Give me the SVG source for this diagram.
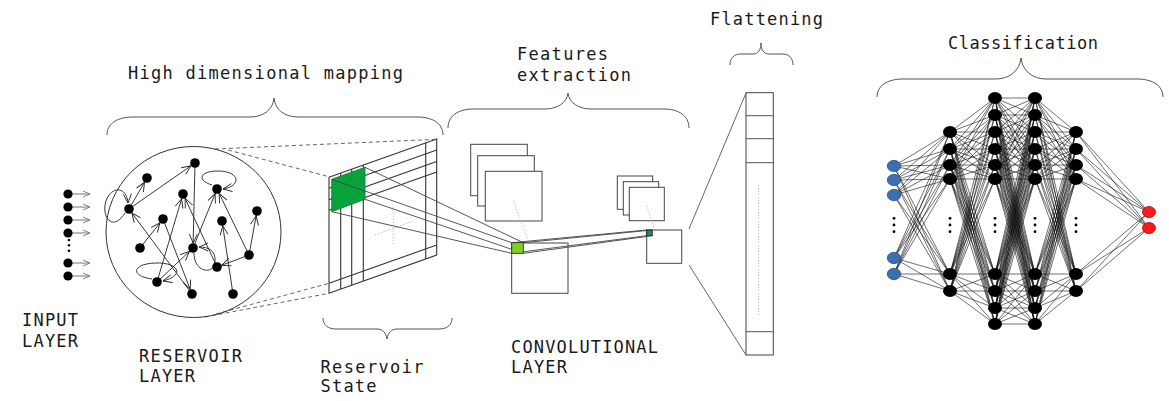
<svg xmlns="http://www.w3.org/2000/svg" width="1169" height="401" viewBox="0 0 1169 401">
<style>
.lbl{font-family:"DejaVu Sans Mono","Liberation Mono",monospace;font-size:17px;fill:#1a1a1a}
.brace{fill:none;stroke:#555;stroke-width:1}
.grid{stroke:#333;stroke-width:1.1;fill:none}
.box{fill:#fff;stroke:#444;stroke-width:1}
.dot{stroke:#aaa;stroke-width:1;stroke-dasharray:1 2;fill:none}
.edge{stroke:#222;stroke-width:0.9;fill:none}
.dash{stroke:#555;stroke-width:0.9;stroke-dasharray:4 3;fill:none}
.proj{stroke:#444;stroke-width:0.9;fill:none}
.nn{stroke:#111;stroke-width:0.6;fill:none}
.rn{fill:#000}
.bn{fill:#000}
.blue{fill:#3d6fb0;stroke:#2a4f80;stroke-width:0.8}
.red{fill:#ff1a1a;stroke:#b00000;stroke-width:0.8}
</style>
<defs>
<marker id="arr" markerUnits="userSpaceOnUse" markerWidth="16" markerHeight="10" refX="14" refY="4" orient="auto" overflow="visible"><path d="M0,0 L9,4 L0,8" fill="none" stroke="#222" stroke-width="0.9"/></marker>
<marker id="tip" markerUnits="userSpaceOnUse" markerWidth="10" markerHeight="10" refX="9" refY="4" orient="auto" overflow="visible"><path d="M0,0 L9,4 L0,8" fill="none" stroke="#222" stroke-width="0.9"/></marker>
<marker id="inarr" markerUnits="userSpaceOnUse" markerWidth="8" markerHeight="8" refX="7" refY="3" orient="auto" overflow="visible"><path d="M0,0 L7,3 L0,6" fill="none" stroke="#777" stroke-width="0.9"/></marker>
</defs>
<rect width="1169" height="401" fill="#fff"/>

<g id="reservoir-state">
<path class="grid" d="M329,177.3 L436.7,139 L436.7,255 L329,293.3 Z"/>
<path class="grid" d="M329,188.3 L436.7,150 M329,199.8 L436.7,161.5 M329,210.3 L436.7,172 M329,283.3 L436.7,245"/>
<path class="grid" d="M340.7,173.1 V289.1 M351.7,169.2 V285.2 M363.3,165.1 V281.1 M425.7,142.9 V258.9"/>
<polygon points="331.7,179.3 365,167.3 365,199.3 331.7,211.7" fill="#05a33a" stroke="#0a7a2c" stroke-width="0.8"/>
<path class="dot" d="M393.3,206.7 V245 M375,235 L413,221"/>
</g>

<g id="feature-maps">
<rect class="box" x="470.7" y="144.3" width="56.6" height="51.4"/>
<rect class="box" x="477.7" y="155.7" width="56.6" height="50.3"/>
<rect class="box" x="485.3" y="171.3" width="56.7" height="49.7"/>
<path class="dot" d="M513.3,200.7 L527.3,238.3"/>
<rect class="box" x="511.7" y="243" width="56.3" height="50.3"/>
<rect class="box" x="617.3" y="176" width="35.4" height="33.3"/>
<rect class="box" x="623.3" y="181.7" width="35.4" height="33.3"/>
<rect class="box" x="629.3" y="187.3" width="35" height="33.4"/>
<path class="dot" d="M646.7,206 L654,228.3"/>
<rect class="box" x="646.7" y="230" width="35" height="33.3"/>
</g>

<g id="flatten">
<rect class="box" x="746" y="92.7" width="27.3" height="262.3"/>
<path stroke="#555" stroke-width="1" d="M746,115.7 H773.3 M746,138.7 H773.3 M746,162.7 H773.3 M746,331.7 H773.3"/>
<path class="dot" d="M758.7,185 V315"/>
</g>

<g id="connectors">
<g stroke="#666" stroke-width="0.9" marker-end="url(#inarr)">
<line x1="72" y1="194" x2="90" y2="194"/>
<line x1="72" y1="207" x2="90" y2="207"/>
<line x1="72" y1="220" x2="90" y2="220"/>
<line x1="72" y1="233" x2="90" y2="233"/>
<line x1="72" y1="263" x2="90" y2="263"/>
<line x1="72" y1="276" x2="90" y2="276"/>
</g>
<g class="edge" marker-end="url(#arr)">
<line x1="129" y1="209" x2="195" y2="163"/>
<line x1="129" y1="209" x2="147" y2="178"/>
<line x1="192" y1="294" x2="129" y2="209"/>
<line x1="195" y1="163" x2="193" y2="248"/>
<line x1="140" y1="248" x2="163" y2="219"/>
<line x1="163" y1="219" x2="192" y2="294"/>
<line x1="157" y1="282" x2="183" y2="194"/>
<line x1="217" y1="267" x2="183" y2="194"/>
<line x1="157" y1="282" x2="193" y2="248"/>
<line x1="193" y1="248" x2="217" y2="189"/>
<line x1="249" y1="255" x2="217" y2="189"/>
<line x1="249" y1="255" x2="257" y2="211"/>
<line x1="249" y1="255" x2="217" y2="267"/>
<line x1="233" y1="294" x2="222" y2="221"/>
</g>
<g class="edge" marker-end="url(#tip)">
<path d="M125,213 C110,236 98,210 109,195 C116,186 127,189 128,203"/>
<path d="M212,185 C196,180 200,171 218,171 C240,171 242,186 223,189"/>
<path d="M152,279 C130,276 132,264 155,263 C178,262 186,275 163,281"/>
<path d="M194,253 C194,273 214,275 215,262 C216,250 208,247 199,247"/>
</g>
<path class="dash" d="M215,149 L436.7,139.3 M228,150 L330,177 M205,317 L329,293.3 M216,314 L329,283.3"/>
<path class="proj" d="M365,167.3 L523.3,242.7 M331.7,179.3 L511.7,242.7 M365,199.3 L523.3,253.3 M331.7,211.7 L511.7,253.3"/>
<path class="proj" stroke-width="1.1" d="M511.7,242.7 L646.7,230 M523.3,242.7 L652.3,230 M511.7,253.3 L646.7,235.7 M523.3,253.3 L652.3,235.7"/>
<path stroke="#666" stroke-width="1" d="M689,229 L746,93 M689,265 L746,355"/>
<path class="nn" d="M894 166L950 132M894 166L950 149M894 166L950 165M894 166L950 179M894 166L950 274M894 166L950 291M894 180L950 132M894 180L950 149M894 180L950 165M894 180L950 179M894 180L950 274M894 180L950 291M894 195L950 132M894 195L950 149M894 195L950 165M894 195L950 179M894 195L950 274M894 195L950 291M894 258L950 132M894 258L950 149M894 258L950 165M894 258L950 179M894 258L950 274M894 258L950 291M894 274L950 132M894 274L950 149M894 274L950 165M894 274L950 179M894 274L950 274M894 274L950 291"/>
<path class="nn" d="M950 132L995 98M950 132L995 115M950 132L995 132M950 132L995 149M950 132L995 165M950 132L995 179M950 132L995 274M950 132L995 291M950 132L995 308M950 132L995 324M950 149L995 98M950 149L995 115M950 149L995 132M950 149L995 149M950 149L995 165M950 149L995 179M950 149L995 274M950 149L995 291M950 149L995 308M950 149L995 324M950 165L995 98M950 165L995 115M950 165L995 132M950 165L995 149M950 165L995 165M950 165L995 179M950 165L995 274M950 165L995 291M950 165L995 308M950 165L995 324M950 179L995 98M950 179L995 115M950 179L995 132M950 179L995 149M950 179L995 165M950 179L995 179M950 179L995 274M950 179L995 291M950 179L995 308M950 179L995 324M950 274L995 98M950 274L995 115M950 274L995 132M950 274L995 149M950 274L995 165M950 274L995 179M950 274L995 274M950 274L995 291M950 274L995 308M950 274L995 324M950 291L995 98M950 291L995 115M950 291L995 132M950 291L995 149M950 291L995 165M950 291L995 179M950 291L995 274M950 291L995 291M950 291L995 308M950 291L995 324"/>
<path class="nn" d="M995 98L1035 98M995 98L1035 115M995 98L1035 132M995 98L1035 149M995 98L1035 165M995 98L1035 179M995 98L1035 274M995 98L1035 291M995 98L1035 308M995 98L1035 324M995 115L1035 98M995 115L1035 115M995 115L1035 132M995 115L1035 149M995 115L1035 165M995 115L1035 179M995 115L1035 274M995 115L1035 291M995 115L1035 308M995 115L1035 324M995 132L1035 98M995 132L1035 115M995 132L1035 132M995 132L1035 149M995 132L1035 165M995 132L1035 179M995 132L1035 274M995 132L1035 291M995 132L1035 308M995 132L1035 324M995 149L1035 98M995 149L1035 115M995 149L1035 132M995 149L1035 149M995 149L1035 165M995 149L1035 179M995 149L1035 274M995 149L1035 291M995 149L1035 308M995 149L1035 324M995 165L1035 98M995 165L1035 115M995 165L1035 132M995 165L1035 149M995 165L1035 165M995 165L1035 179M995 165L1035 274M995 165L1035 291M995 165L1035 308M995 165L1035 324M995 179L1035 98M995 179L1035 115M995 179L1035 132M995 179L1035 149M995 179L1035 165M995 179L1035 179M995 179L1035 274M995 179L1035 291M995 179L1035 308M995 179L1035 324M995 274L1035 98M995 274L1035 115M995 274L1035 132M995 274L1035 149M995 274L1035 165M995 274L1035 179M995 274L1035 274M995 274L1035 291M995 274L1035 308M995 274L1035 324M995 291L1035 98M995 291L1035 115M995 291L1035 132M995 291L1035 149M995 291L1035 165M995 291L1035 179M995 291L1035 274M995 291L1035 291M995 291L1035 308M995 291L1035 324M995 308L1035 98M995 308L1035 115M995 308L1035 132M995 308L1035 149M995 308L1035 165M995 308L1035 179M995 308L1035 274M995 308L1035 291M995 308L1035 308M995 308L1035 324M995 324L1035 98M995 324L1035 115M995 324L1035 132M995 324L1035 149M995 324L1035 165M995 324L1035 179M995 324L1035 274M995 324L1035 291M995 324L1035 308M995 324L1035 324"/>
<path class="nn" d="M1035 98L1076 132M1035 98L1076 149M1035 98L1076 165M1035 98L1076 179M1035 98L1076 274M1035 98L1076 291M1035 115L1076 132M1035 115L1076 149M1035 115L1076 165M1035 115L1076 179M1035 115L1076 274M1035 115L1076 291M1035 132L1076 132M1035 132L1076 149M1035 132L1076 165M1035 132L1076 179M1035 132L1076 274M1035 132L1076 291M1035 149L1076 132M1035 149L1076 149M1035 149L1076 165M1035 149L1076 179M1035 149L1076 274M1035 149L1076 291M1035 165L1076 132M1035 165L1076 149M1035 165L1076 165M1035 165L1076 179M1035 165L1076 274M1035 165L1076 291M1035 179L1076 132M1035 179L1076 149M1035 179L1076 165M1035 179L1076 179M1035 179L1076 274M1035 179L1076 291M1035 274L1076 132M1035 274L1076 149M1035 274L1076 165M1035 274L1076 179M1035 274L1076 274M1035 274L1076 291M1035 291L1076 132M1035 291L1076 149M1035 291L1076 165M1035 291L1076 179M1035 291L1076 274M1035 291L1076 291M1035 308L1076 132M1035 308L1076 149M1035 308L1076 165M1035 308L1076 179M1035 308L1076 274M1035 308L1076 291M1035 324L1076 132M1035 324L1076 149M1035 324L1076 165M1035 324L1076 179M1035 324L1076 274M1035 324L1076 291"/>
<path class="nn" d="M1076 132L1149 212M1076 132L1149 228M1076 149L1149 212M1076 149L1149 228M1076 165L1149 212M1076 165L1149 228M1076 179L1149 212M1076 179L1149 228M1076 274L1149 212M1076 274L1149 228M1076 291L1149 212M1076 291L1149 228"/>
</g>

<g id="input-layer">
<circle class="rn" cx="68" cy="194" r="4.6"/>
<circle class="rn" cx="68" cy="207" r="4.6"/>
<circle class="rn" cx="68" cy="220" r="4.6"/>
<circle class="rn" cx="68" cy="233" r="4.6"/>
<circle class="rn" cx="68" cy="263" r="4.6"/>
<circle class="rn" cx="68" cy="276" r="4.6"/>
<circle class="rn" cx="69" cy="240" r="1.3"/>
<circle class="rn" cx="69" cy="245.3" r="1.3"/>
<circle class="rn" cx="69" cy="250.7" r="1.3"/>
</g>

<g id="reservoir-layer">
<ellipse cx="193.5" cy="232" rx="87.5" ry="85.5" fill="none" stroke="#333" stroke-width="1"/>
<circle class="rn" cx="195" cy="163" r="4.8"/>
<circle class="rn" cx="147" cy="178" r="4.8"/>
<circle class="rn" cx="129" cy="209" r="4.8"/>
<circle class="rn" cx="183" cy="194" r="4.8"/>
<circle class="rn" cx="217" cy="189" r="4.8"/>
<circle class="rn" cx="257" cy="211" r="4.8"/>
<circle class="rn" cx="163" cy="219" r="4.8"/>
<circle class="rn" cx="222" cy="221" r="4.8"/>
<circle class="rn" cx="140" cy="248" r="4.8"/>
<circle class="rn" cx="193" cy="248" r="4.8"/>
<circle class="rn" cx="249" cy="255" r="4.8"/>
<circle class="rn" cx="217" cy="267" r="4.8"/>
<circle class="rn" cx="157" cy="282" r="4.8"/>
<circle class="rn" cx="192" cy="294" r="4.8"/>
<circle class="rn" cx="233" cy="294" r="4.8"/>
</g>

<g id="conv-kernels">
<rect x="511.7" y="242.7" width="11.6" height="10.6" fill="#7ed321" stroke="#333" stroke-width="0.9"/>
<rect x="646.7" y="230" width="5.6" height="5.7" fill="#1a8a6a" stroke="#222" stroke-width="0.8"/>
</g>

<g id="nn-input">
<ellipse class="blue" cx="894" cy="166" rx="6.7" ry="5.7"/>
<ellipse class="blue" cx="894" cy="180" rx="6.7" ry="5.7"/>
<ellipse class="blue" cx="894" cy="195" rx="6.7" ry="5.7"/>
<ellipse class="blue" cx="894" cy="258" rx="6.7" ry="5.7"/>
<ellipse class="blue" cx="894" cy="274" rx="6.7" ry="5.7"/>
<circle class="bn" cx="894" cy="218.3" r="1.4"/><circle class="bn" cx="894" cy="225" r="1.4"/><circle class="bn" cx="894" cy="231.7" r="1.4"/>
</g>
<g id="nn-hidden1">
<ellipse class="bn" cx="950" cy="132" rx="7" ry="6"/>
<ellipse class="bn" cx="950" cy="149" rx="7" ry="6"/>
<ellipse class="bn" cx="950" cy="165" rx="7" ry="6"/>
<ellipse class="bn" cx="950" cy="179" rx="7" ry="6"/>
<ellipse class="bn" cx="950" cy="274" rx="7" ry="6"/>
<ellipse class="bn" cx="950" cy="291" rx="7" ry="6"/>
<circle class="bn" cx="950" cy="218.3" r="1.4"/><circle class="bn" cx="950" cy="225" r="1.4"/><circle class="bn" cx="950" cy="231.7" r="1.4"/>
</g>
<g id="nn-hidden2">
<ellipse class="bn" cx="995" cy="98" rx="7" ry="6"/>
<ellipse class="bn" cx="995" cy="115" rx="7" ry="6"/>
<ellipse class="bn" cx="995" cy="132" rx="7" ry="6"/>
<ellipse class="bn" cx="995" cy="149" rx="7" ry="6"/>
<ellipse class="bn" cx="995" cy="165" rx="7" ry="6"/>
<ellipse class="bn" cx="995" cy="179" rx="7" ry="6"/>
<ellipse class="bn" cx="995" cy="274" rx="7" ry="6"/>
<ellipse class="bn" cx="995" cy="291" rx="7" ry="6"/>
<ellipse class="bn" cx="995" cy="308" rx="7" ry="6"/>
<ellipse class="bn" cx="995" cy="324" rx="7" ry="6"/>
<circle class="bn" cx="995" cy="218.3" r="1.4"/><circle class="bn" cx="995" cy="225" r="1.4"/><circle class="bn" cx="995" cy="231.7" r="1.4"/>
</g>
<g id="nn-hidden3">
<ellipse class="bn" cx="1035" cy="98" rx="7" ry="6"/>
<ellipse class="bn" cx="1035" cy="115" rx="7" ry="6"/>
<ellipse class="bn" cx="1035" cy="132" rx="7" ry="6"/>
<ellipse class="bn" cx="1035" cy="149" rx="7" ry="6"/>
<ellipse class="bn" cx="1035" cy="165" rx="7" ry="6"/>
<ellipse class="bn" cx="1035" cy="179" rx="7" ry="6"/>
<ellipse class="bn" cx="1035" cy="274" rx="7" ry="6"/>
<ellipse class="bn" cx="1035" cy="291" rx="7" ry="6"/>
<ellipse class="bn" cx="1035" cy="308" rx="7" ry="6"/>
<ellipse class="bn" cx="1035" cy="324" rx="7" ry="6"/>
<circle class="bn" cx="1035" cy="218.3" r="1.4"/><circle class="bn" cx="1035" cy="225" r="1.4"/><circle class="bn" cx="1035" cy="231.7" r="1.4"/>
</g>
<g id="nn-hidden4">
<ellipse class="bn" cx="1076" cy="132" rx="7" ry="6"/>
<ellipse class="bn" cx="1076" cy="149" rx="7" ry="6"/>
<ellipse class="bn" cx="1076" cy="165" rx="7" ry="6"/>
<ellipse class="bn" cx="1076" cy="179" rx="7" ry="6"/>
<ellipse class="bn" cx="1076" cy="274" rx="7" ry="6"/>
<ellipse class="bn" cx="1076" cy="291" rx="7" ry="6"/>
<circle class="bn" cx="1076" cy="218.3" r="1.4"/><circle class="bn" cx="1076" cy="225" r="1.4"/><circle class="bn" cx="1076" cy="231.7" r="1.4"/>
</g>
<g id="nn-output">
<ellipse class="red" cx="1149" cy="212" rx="6.5" ry="5.5"/>
<ellipse class="red" cx="1149" cy="228" rx="6.5" ry="5.5"/>
</g>

<g id="braces">
<path class="brace" d="M107,135 C107,123 118,117 133,117 L250,117 C263,117 273,110 274,98 C275,110 285,117 298,117 L417,117 C432,117 443,123 443,135"/>
<path class="brace" d="M448,128 C448,116 458,109 473,109 L545,109 C557,109 567,103 568,93 C569,103 579,109 591,109 L664,109 C679,109 689,116 689,128"/>
<path class="brace" d="M730,65 C730,58 734,54 741,54 L753,54 C758,54 761,50 761,43 C761,50 764,54 769,54 L782,54 C789,54 793,58 793,65"/>
<path class="brace" d="M877,97 C877,86 887,79 903,79 L996,79 C1010,79 1020,70 1021,58 C1022,70 1032,79 1046,79 L1137,79 C1153,79 1163,86 1163,97"/>
<path class="brace" d="M323,318 C323,325 328,329 336,329 L377,329 C383,329 386,333 387,339 C388,333 391,329 397,329 L439,329 C447,329 452,325 452,318"/>
</g>

<g id="labels">
<text class="lbl" x="128" y="79" textLength="275" lengthAdjust="spacing">High dimensional mapping</text>
<text class="lbl" x="517" y="60" textLength="91" lengthAdjust="spacing">Features</text>
<text class="lbl" x="517" y="80.5" textLength="114" lengthAdjust="spacing">extraction</text>
<text class="lbl" x="710" y="25" textLength="113" lengthAdjust="spacing">Flattening</text>
<text class="lbl" x="948" y="49" textLength="150" lengthAdjust="spacing">Classification</text>
<text class="lbl" x="22" y="326" textLength="56" lengthAdjust="spacing">INPUT</text>
<text class="lbl" x="22" y="347" textLength="56" lengthAdjust="spacing">LAYER</text>
<text class="lbl" x="139" y="361.5" textLength="103" lengthAdjust="spacing">RESERVOIR</text>
<text class="lbl" x="139" y="381.5" textLength="56" lengthAdjust="spacing">LAYER</text>
<text class="lbl" x="320.5" y="372.5" textLength="103" lengthAdjust="spacing">Reservoir</text>
<text class="lbl" x="320.5" y="392" textLength="56" lengthAdjust="spacing">State</text>
<text class="lbl" x="511" y="352.5" textLength="147" lengthAdjust="spacing">CONVOLUTIONAL</text>
<text class="lbl" x="511" y="373" textLength="56" lengthAdjust="spacing">LAYER</text>
</g>
</svg>
